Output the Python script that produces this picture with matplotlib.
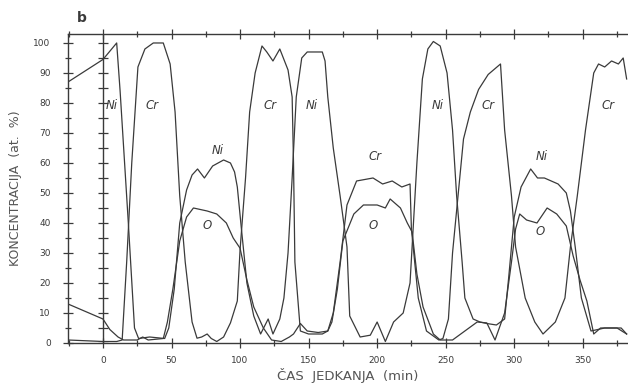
import numpy as np
import matplotlib.pyplot as plt
from matplotlib.ticker import MultipleLocator

# sputter time (min) and concentration (at. %)
ni_t = [-25.5, 0, 10, 12.5, 18.5, 23, 26, 34, 45, 48, 52, 56, 61, 65, 69, 74, 80, 88, 93, 96, 98,
        101, 105, 110, 115, 120.5, 124, 129, 132, 135, 138, 141, 145, 149, 160, 162, 164, 168, 173,
        178, 180, 187.6, 195, 200, 206, 212, 219, 224, 229, 233, 237, 241, 246, 251, 255, 258, 262,
        264, 270, 275, 280, 287, 293, 296, 300, 305, 312, 317, 322, 332, 338, 341, 344.5, 349, 356,
        366, 378, 382]
ni_v = [87, 94.5, 100, 84, 40, 5, 1.5, 2, 1.5, 5, 18, 40, 51, 56, 58, 55, 59, 61, 60, 57, 52,
        38, 20, 9, 3, 8, 3, 8, 15, 30, 55, 82, 95, 97, 97, 94, 82, 65, 49,
        32, 9, 2, 2.6, 7, 0.5, 7, 10, 20, 60, 88, 98, 100.5, 99, 90, 71, 49, 27,
        15, 8, 7, 6.5, 6, 8, 22, 42, 52, 58, 55, 55, 53, 50, 44, 32, 15, 4,
        5, 5, 3]

cr_t = [-25.5, 0, 10, 14, 17.3, 21, 25.5, 30.6, 36.7, 44, 49, 52.6, 56, 60, 65, 68.6, 72, 76, 79,
        83, 88, 93, 98, 100, 104, 107, 111, 116, 119.5, 124, 129, 135, 138, 139, 140, 144, 150,
        160, 164, 168, 173, 178, 185, 197, 204, 211, 218, 224, 225, 230, 236, 245, 248, 252, 255,
        259, 263, 268, 274, 281, 290, 293, 298, 301, 308, 315, 321, 330, 337, 341, 346, 352, 358,
        361.5, 366, 371, 376, 379.5, 382]
cr_v = [1, 0.5, 0.5, 1, 27, 60, 92, 98, 100, 100, 93, 77, 49, 27, 7, 1.6, 2, 3, 1.5,
        0.5, 2, 6.7, 14, 31, 55, 77, 90, 99, 97, 94, 98, 91, 82, 60, 27, 4, 3,
        3, 4, 10, 27, 46, 54, 55, 53, 54, 52, 53, 38, 15, 4, 1, 1.5, 8, 30,
        49, 68, 77, 84.5, 89.5, 93, 71, 49, 32, 15, 7, 3, 7, 15, 32, 49, 71, 90,
        93, 92, 94, 93, 95, 88]

o_t = [-25.5, 0, 5, 11, 15, 25, 29, 33, 44, 47, 51, 56, 61, 66, 76, 83, 90, 95, 100, 105, 110,
       117, 123, 130, 136, 139, 144, 149, 157, 164, 167, 171, 175, 183, 190, 200, 206, 209.5, 217,
       222, 225.5, 229, 233.5, 241, 246, 255, 261, 273, 280, 286, 293, 298, 301, 304, 309, 316.6,
       324, 331, 338, 343, 348, 353, 358, 363, 375, 382]
o_v = [13, 8, 4.5, 2, 1, 1, 2, 1, 1.5, 7, 18, 34, 42, 45, 44, 43, 40, 35, 31.6, 21, 12,
       5, 1, 0.5, 2, 3, 6.5, 4, 3.5, 4, 7, 18, 34, 43, 46, 46, 45, 48, 45,
       40, 37, 23, 12, 3, 1, 1, 3, 7, 6.7, 1, 10, 27, 38, 43, 41, 40,
       45, 43, 39, 29, 21, 14, 3, 5, 5, 3]

# layer labels: (text, time, concentration)
labels = [("Ni", 6.5, 79), ("Cr", 36, 79), ("Ni", 84, 64), ("O", 76, 39),
          ("Cr", 122, 79), ("Ni", 152, 79), ("Cr", 198.5, 62), ("O", 197, 39),
          ("Ni", 244, 79), ("Cr", 281, 79), ("Ni", 320, 62), ("O", 319, 37),
          ("Cr", 368.6, 79)]

ink = '#3a3a3a'
fig = plt.figure(figsize=(6.28, 3.87), dpi=100)
ax = fig.add_axes([0.1083, 0.1137, 0.8917, 0.7985])

for t, v in [(ni_t, ni_v), (cr_t, cr_v), (o_t, o_v)]:
    ax.plot(t, v, color=ink, lw=0.9)

for txt, t, v in labels:
    ax.text(t, v, txt, fontsize=8.5, style='italic', color=ink, ha='center', va='center')

# second vertical axis at t = 0 with its own ticks
ax.axvline(0, color=ink, lw=1.0)
yt = np.arange(0, 101, 5)
ax.plot(np.zeros_like(yt), yt, ls='none', marker='_', ms=7, mew=0.9, color=ink)

ax.set_xlim(-25.5, 383)
ax.set_ylim(0, 103)
ax.xaxis.set_major_locator(MultipleLocator(50))
ax.xaxis.set_minor_locator(MultipleLocator(25))
ax.yaxis.set_major_locator(MultipleLocator(10))
ax.yaxis.set_minor_locator(MultipleLocator(5))
ax.set_xticks(np.arange(0, 351, 50))
ax.set_xticklabels([str(v) for v in range(0, 351, 50)])
ax.tick_params(which='both', direction='inout', color=ink, width=0.9, top=True,
               labelsize=6.5, labelcolor=ink)
ax.tick_params(which='major', length=7)
ax.tick_params(which='minor', length=5)
ax.tick_params(axis='y', pad=9)
ax.tick_params(axis='x', pad=6)
for s in ['left', 'bottom', 'top']:
    ax.spines[s].set_color(ink)
    ax.spines[s].set_linewidth(1.0)
ax.spines['right'].set_visible(False)

ax.set_ylabel('KONCENTRACIJA  (at.  %)', fontsize=9, color='#555555', labelpad=8)
ax.set_xlabel('ČAS  JEDKANJA  (min)', fontsize=9.5, color='#555555', labelpad=2)
fig.text(0.131, 0.953, 'b', fontsize=10, fontweight='bold', color=ink, ha='center', va='center')

fig.savefig('out.png', dpi=100)
